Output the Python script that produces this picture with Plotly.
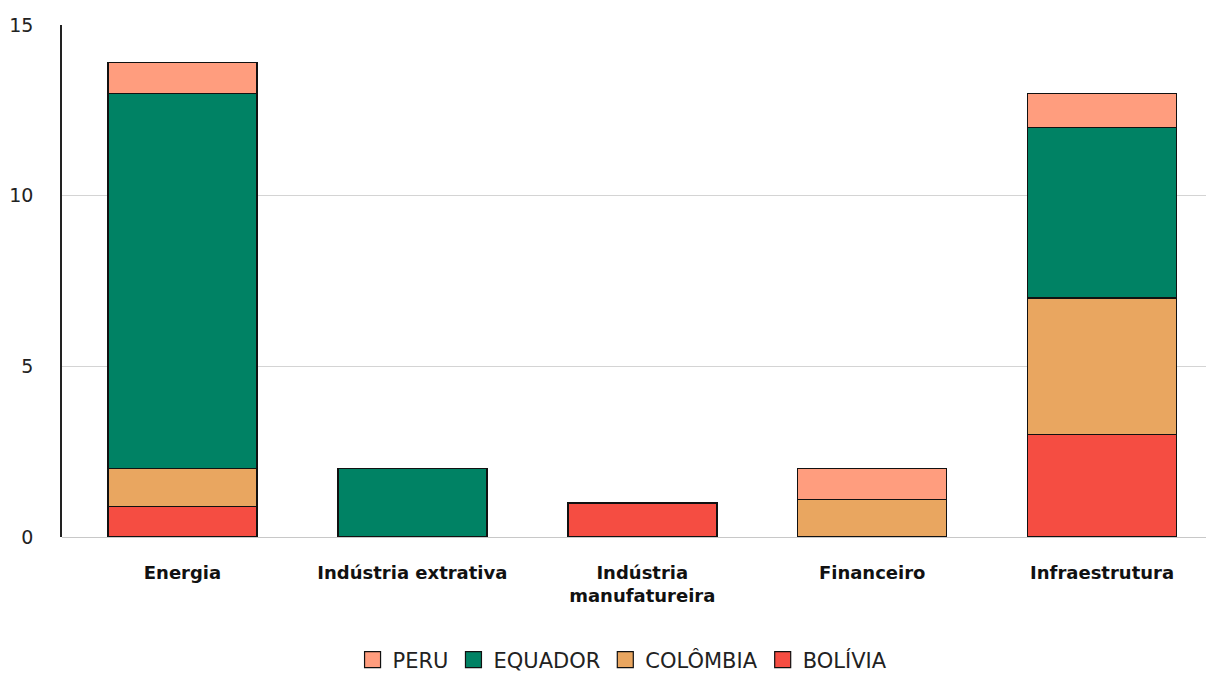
import plotly.graph_objects as go

# Sector categories (x axis)
setores = ["Energia", "Indústria extrativa", "Indústria<br>manufatureira",
           "Financeiro", "Infraestrutura"]

# Values per country, stacked from the bottom up
bolivia = [0.9, 0, 1.0, 0, 3]
colombia = [1.1, 0, 0, 1.1, 4]
equador = [11, 2, 0, 0, 5]
peru = [0.9, 0, 0, 0.9, 1]

y_ticks = [0, 5, 10, 15]

series = [
    ("BOLÍVIA", bolivia, "#F54D42"),
    ("COLÔMBIA", colombia, "#E9A660"),
    ("EQUADOR", equador, "#008264"),
    ("PERU", peru, "#FF9D7E"),
]

FONT = "DejaVu Sans, sans-serif"
EDGE = "#111111"

fig = go.Figure()
for name, vals, color in series:
    fig.add_trace(go.Bar(
        x=setores, y=vals, name=name, showlegend=False,
        marker=dict(color=color, line=dict(color=EDGE, width=1.5)),
        width=0.648,
    ))

# Legend entries with larger square swatches
for name, _, color in series:
    fig.add_trace(go.Scatter(
        x=[None], y=[None], mode="markers", name=name,
        marker=dict(symbol="square", size=16, color=color,
                    line=dict(color=EDGE, width=1.2)),
    ))

fig.update_layout(
    width=1206, height=674,
    barmode="stack",
    plot_bgcolor="white", paper_bgcolor="white",
    margin=dict(l=62, r=0, t=25, b=137, autoexpand=False),
    font=dict(family=FONT, color="#222222"),
    legend=dict(
        orientation="h", traceorder="reversed", itemsizing="trace",
        x=0.49, xanchor="center", y=-0.2, yanchor="top",
        font=dict(size=21, family=FONT, color="#222222"),
    ),
    xaxis=dict(
        range=[-0.524, 4.452],
        showgrid=False, showline=False, zeroline=False,
        tickfont=dict(size=18, family=FONT, color="#111111", weight="bold"),
        ticks="outside", ticklen=0, ticklabelstandoff=19,
    ),
    yaxis=dict(
        range=[0, 15], tickvals=y_ticks,
        showgrid=True, gridcolor="#d4d4d4", gridwidth=1,
        zeroline=True, zerolinecolor="#c8c8c8", zerolinewidth=1,
        showline=True, linecolor="#222222", linewidth=1.5,
        tickfont=dict(size=19, family=FONT, color="#222222"),
        ticks="outside", ticklen=0, ticklabelstandoff=23,
    ),
)

fig.write_html("out.html")
